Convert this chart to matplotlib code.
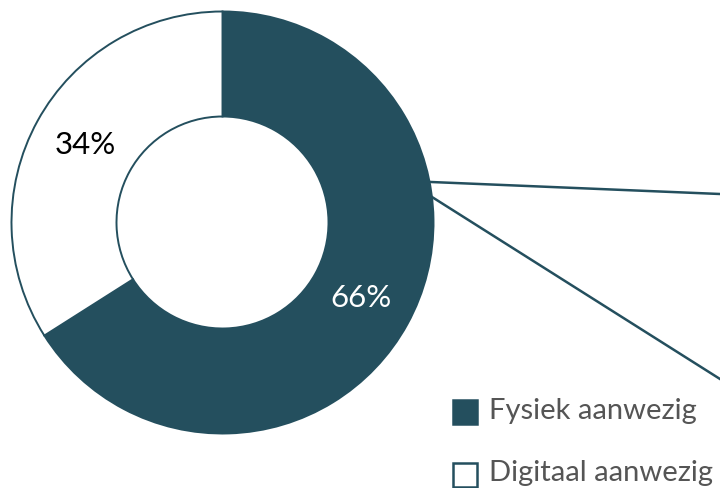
import matplotlib.pyplot as plt
from matplotlib.patches import Rectangle

plt.rcParams['font.family'] = ['Lato', 'DejaVu Sans']

LABELS = ["Fysiek aanwezig", "Digitaal aanwezig"]
SHARES = [66, 34]
DARK = "#244f5e"

H = 488
fig = plt.figure(figsize=(7.2, 4.88), dpi=100)
ax = fig.add_axes([0, 0, 1, 1])

cx, cy, r = 222.5, H - 222.5, 211
ax.pie(SHARES, colors=[DARK, "white"], startangle=90, counterclock=False,
       center=(cx, cy), radius=r, frame=True,
       wedgeprops=dict(width=105, edgecolor=DARK, linewidth=1.4))
ax.set_xlim(0, 720)
ax.set_ylim(0, H)
ax.set_aspect("equal")
ax.axis("off")

ax.text(361, H - 298, f"{SHARES[0]}%", color="white", fontsize=22.5,
        ha="center", va="center")
ax.text(85, H - 145, f"{SHARES[1]}%", color="black", fontsize=22.5,
        ha="center", va="center")

# connector lines to the detail chart on the right
ax.plot([431, 720], [H - 182, H - 194], color=DARK, lw=1.8)
ax.plot([432, 720], [H - 197, H - 379], color=DARK, lw=1.8)

# legend
for i, lab in enumerate(LABELS):
    y = H - (411.5 + i * 63)
    fc = DARK if i == 0 else "white"
    ax.add_patch(Rectangle((452.5, y - 12), 24, 24, facecolor=fc,
                           edgecolor=DARK, lw=1.8))
    ax.text(489, y + 1, lab, color="#555555", fontsize=21,
            ha="left", va="center")

fig.savefig("out.png", dpi=100)
